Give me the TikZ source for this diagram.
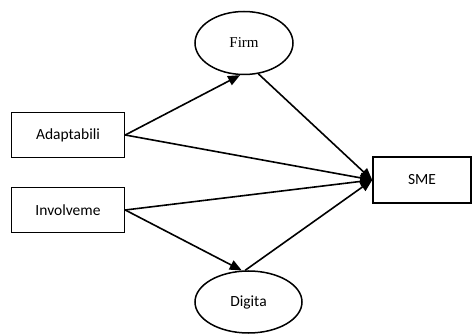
\documentclass[tikz,border=0pt]{standalone}
\usepackage{fontspec}
\setmainfont{Liberation Serif}
\newfontfamily\calibri{Carlito}
\usepackage{tikz}
\usetikzlibrary{shapes.geometric,arrows.meta}

\begin{document}
\begin{tikzpicture}[x=1pt, y=-1pt,
    box/.style={draw, line width=1.5pt, minimum width=113pt, minimum height=45pt, inner sep=0pt, font=\calibri\fontsize{15.5}{18}\selectfont},
    oval/.style={draw, ellipse, line width=1.5pt, inner sep=0pt},
    link/.style={line width=1.6pt, -{Triangle[length=12pt,width=10pt]}}]
    \useasboundingbox (0,0) rectangle (472,334);

    % Input boxes
    \node[box] (adapt) at (68,135) {Adaptabili};
    \node[box] (involve) at (68,210) {Involveme};

    % Mediators
    \node[oval, minimum width=98pt, minimum height=63pt, font=\fontsize{15}{18}\selectfont] (firm) at (244,43) {Firm};
    \node[oval, minimum width=107pt, minimum height=62pt, font=\calibri\fontsize{15.5}{18}\selectfont] (digita) at (248.5,302) {Digita};

    % Outcome
    \node[box, minimum width=98pt, minimum height=46pt] (sme) at (422,180) {SME};

    % Paths
    \draw[link] (adapt.east) -- (firm.-97);
    \draw[link] (adapt.east) -- (sme.west);
    \draw[link] (firm.-65) -- (sme.west);
    \draw[link] (involve.east) -- (sme.west);
    \draw[link] (involve.east) -- (digita.102);
    \draw[link] (digita.96) -- (sme.west);
\end{tikzpicture}
\end{document}
